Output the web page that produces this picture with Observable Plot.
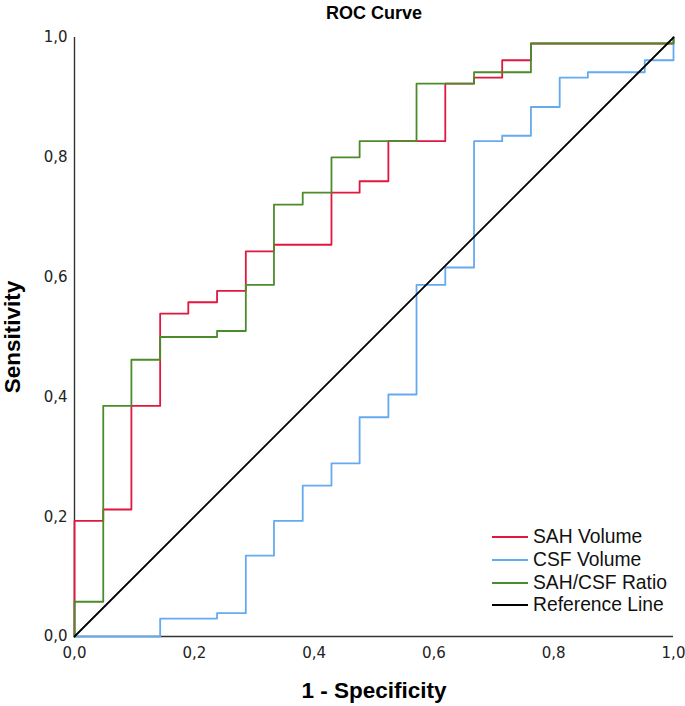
<!DOCTYPE html>
<html>
<head>
<meta charset="utf-8">
<script src="https://cdn.jsdelivr.net/npm/d3@7"></script>
<script src="https://cdn.jsdelivr.net/npm/@observablehq/plot@0.6"></script>
<style>
  html, body { margin: 0; padding: 0; background: #fff; }
  #wrap { position: relative; width: 685px; height: 706px; }
  #legend { position: absolute; left: 492px; top: 526px; font-family: "Liberation Sans", Arial, sans-serif; font-size: 19.3px; color: #111; }
  .row { display: flex; align-items: center; height: 22.7px; white-space: nowrap; }
  .sw { width: 36px; height: 0; border-top: 2px solid; margin-right: 5px; }
</style>
</head>
<body>
<div id="wrap"></div>
<script>
// False positive rate (1 - Specificity) and Sensitivity
const sahX   = [0, 0, 0.048, 0.095, 0.143, 0.190, 0.238, 0.286, 0.333, 0.429, 0.476, 0.524, 0.619, 0.667, 0.714, 0.762, 1];
const sahY   = [0, 0.193, 0.212, 0.385, 0.539, 0.558, 0.577, 0.643, 0.654, 0.741, 0.760, 0.827, 0.923, 0.933, 0.962, 0.990, 1];

const csfX   = [0, 0.143, 0.238, 0.286, 0.333, 0.381, 0.429, 0.476, 0.524, 0.571, 0.619, 0.667, 0.714, 0.762, 0.810, 0.857, 0.952, 1];
const csfY   = [0, 0.030, 0.039, 0.135, 0.193, 0.252, 0.289, 0.366, 0.404, 0.587, 0.616, 0.827, 0.836, 0.884, 0.933, 0.942, 0.962, 1];

const ratioX = [0, 0, 0.048, 0.095, 0.143, 0.238, 0.286, 0.333, 0.381, 0.429, 0.476, 0.571, 0.667, 0.762, 1];
const ratioY = [0, 0.058, 0.385, 0.462, 0.500, 0.510, 0.587, 0.721, 0.741, 0.800, 0.827, 0.923, 0.942, 0.990, 1];

const refX = [0, 1];
const refY = [0, 1];

const seriesNames = ["SAH Volume", "CSF Volume", "SAH/CSF Ratio", "Reference Line"];
const seriesColors = ["#e0173f", "#64aaf0", "#4b8c2a", "#000000"];
const ticks = [0, 0.2, 0.4, 0.6, 0.8, 1.0];

const toRows = (xs, ys) => xs.map((x, i) => ({x, y: ys[i]}));
const sah = toRows(sahX, sahY);
const csf = toRows(csfX, csfY);
const ratio = toRows(ratioX, ratioY);
const ref = toRows(refX, refY);

const fmt = d => d3.format(".1f")(d).replace(".", ",");

const chart = Plot.plot({
  width: 685,
  height: 706,
  marginTop: 37,
  marginRight: 12,
  marginBottom: 70,
  marginLeft: 74,
  style: {fontFamily: "DejaVu Sans, sans-serif", fontSize: "15px", color: "#222", background: "#fff"},
  x: {domain: [0, 1]},
  y: {domain: [0, 1]},
  marks: [
    Plot.axisX({ticks, tickFormat: fmt, tickSize: 0, tickPadding: 11, label: null}),
    Plot.axisY({ticks, tickFormat: fmt, tickSize: 0, tickPadding: 7, label: null}),
    Plot.ruleY([0], {stroke: "#333", strokeWidth: 1.4}),
    Plot.ruleX([0], {stroke: "#333", strokeWidth: 1.4}),
    Plot.line(sah, {x: "x", y: "y", curve: "step-after", stroke: seriesColors[0], strokeWidth: 1.8}),
    Plot.line(csf, {x: "x", y: "y", curve: "step-after", stroke: seriesColors[1], strokeWidth: 1.8}),
    Plot.line(ratio, {x: "x", y: "y", curve: "step-after", stroke: seriesColors[2], strokeWidth: 1.8}),
    Plot.line(ref, {x: "x", y: "y", stroke: seriesColors[3], strokeWidth: 1.8}),
    Plot.text(["ROC Curve"], {frameAnchor: "top", lineAnchor: "middle", dy: -24, fontFamily: "Liberation Sans, Arial, sans-serif", fontWeight: "bold", fontSize: 18, fill: "#000"}),
    Plot.text(["1 - Specificity"], {frameAnchor: "bottom", lineAnchor: "middle", dy: 54, fontFamily: "Liberation Sans, Arial, sans-serif", fontWeight: "bold", fontSize: 22.5, fill: "#000"}),
    Plot.text(["Sensitivity"], {frameAnchor: "left", textAnchor: "middle", lineAnchor: "middle", rotate: -90, dx: -62, fontFamily: "Liberation Sans, Arial, sans-serif", fontWeight: "bold", fontSize: 22.5, fill: "#000"})
  ]
});

const wrap = document.getElementById("wrap");
wrap.appendChild(chart);

const legend = document.createElement("div");
legend.id = "legend";
seriesNames.forEach((name, i) => {
  const row = document.createElement("div");
  row.className = "row";
  const sw = document.createElement("span");
  sw.className = "sw";
  sw.style.borderTopColor = seriesColors[i];
  const label = document.createElement("span");
  label.textContent = name;
  row.appendChild(sw);
  row.appendChild(label);
  legend.appendChild(row);
});
wrap.appendChild(legend);
</script>
</body>
</html>
